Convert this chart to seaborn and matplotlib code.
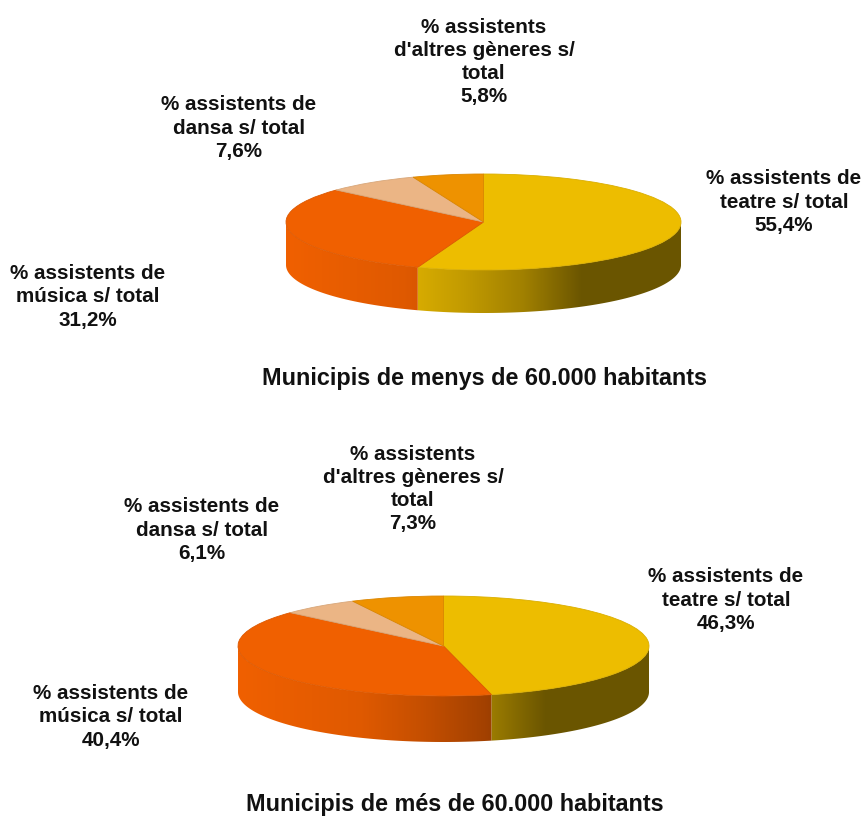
import numpy as np
import matplotlib
matplotlib.use("Agg")
import matplotlib.pyplot as plt
from matplotlib.patches import Polygon
import seaborn as sns

W, H = 864, 816

small_values = [55.4, 31.2, 7.6, 5.8]
large_values = [46.3, 40.4, 6.1, 7.3]
small_title = "Municipis de menys de 60.000 habitants"
large_title = "Municipis de més de 60.000 habitants"
genre_labels = [
    "% assistents de\nteatre s/ total",
    "% assistents de\nmúsica s/ total",
    "% assistents de\ndansa s/ total",
    "% assistents\nd'altres gèneres s/\ntotal",
]

sns.set_theme(style="white")
plt.rcParams["font.family"] = ["Liberation Sans", "DejaVu Sans"]
palette = sns.color_palette(["#EDBD00", "#F06000", "#EBB585", "#EE9200"])


def draw_pie(values, left, top, width, ry, depth):
    # axes in pixels, one data unit on y is ry pixels
    d = depth / ry
    ax = fig.add_axes([left / W, 1 - (top + 2 * ry + depth) / H, width / W, (2 * ry + depth) / H])
    wedges, _ = ax.pie(values, colors=palette, startangle=90, counterclock=False)
    xs = np.linspace(0, 1, 256)
    shade = np.interp(xs, [0, 0.3, 0.45, 0.6, 0.75, 1], [1, 0.93, 0.82, 0.68, 0.45, 0.45])
    for w, c in zip(wedges, palette):
        w.set_edgecolor(np.array(c) * 0.92)
        w.set_linewidth(0.6)
        w.set_clip_on(False)
        lo, hi = max(w.theta1, -180), min(w.theta2, 0)
        if lo >= hi:
            continue
        # side wall with the horizontal light falloff
        img = (np.array(c)[None, None, :] * shade[None, :, None]).clip(0, 1)
        im = ax.imshow(img, extent=(-1, 1, -1 - d, 1), zorder=0, interpolation="bilinear")
        t = np.radians(np.linspace(lo, hi, 100))
        top_arc = np.c_[np.cos(t), np.sin(t)]
        bot_arc = np.c_[np.cos(t[::-1]), np.sin(t[::-1]) - d]
        im.set_clip_path(Polygon(np.r_[top_arc, bot_arc], transform=ax.transData))
    ax.set_aspect("auto")
    ax.set_xlim(-1, 1)
    ax.set_ylim(-1 - d, 1)
    ax.axis("off")
    return ax


def label(x, y, s):
    fig.text(x / W, 1 - y / H, s, ha="center", va="center", fontsize=14.9,
             fontweight="bold", color="#111111", linespacing=1.27)


def pct(v):
    return f"{v:.1f}%".replace(".", ",")


fig = plt.figure(figsize=(W / 100, H / 100), dpi=100)

draw_pie(small_values, 286, 174, 395, 48, 43)
draw_pie(large_values, 238, 596, 411, 50, 46)

small_pos = [(784, 202), (88, 297), (239, 128), (484, 62)]
large_pos = [(726, 600), (111, 717), (202, 530), (413, 489)]
for s, v, p in zip(genre_labels, small_values, small_pos):
    label(p[0], p[1], s + "\n" + pct(v))
for s, v, p in zip(genre_labels, large_values, large_pos):
    label(p[0], p[1], s + "\n" + pct(v))

fig.text(485 / W, 1 - 385 / H, small_title, ha="center", va="baseline", fontsize=16.8,
         fontweight="bold", color="#111111")
fig.text(455 / W, 1 - 811 / H, large_title, ha="center", va="baseline", fontsize=16.8,
         fontweight="bold", color="#111111")

fig.savefig("out.png", dpi=100)
